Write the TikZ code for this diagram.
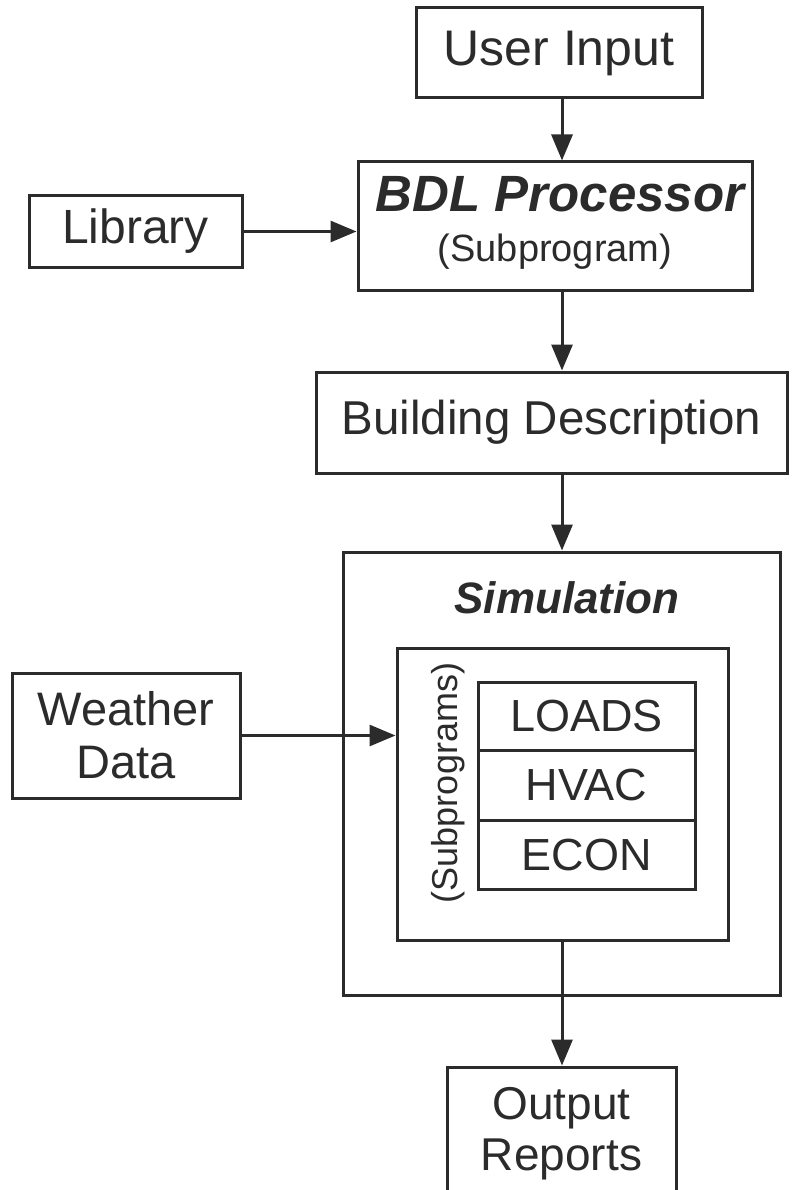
\documentclass[tikz,border=0pt]{standalone}
\usepackage{fontspec}
\setmainfont{Liberation Sans}
\usetikzlibrary{arrows.meta}
\definecolor{ink}{HTML}{2B2B2B}
\begin{document}
\begin{tikzpicture}[x=1pt,y=-1pt,
  box/.style={draw=ink,line width=3pt,text=ink,inner sep=0pt,align=center},
  txt/.style={text=ink,inner sep=0pt,align=center},
  arr/.style={draw=ink,line width=3pt,-{Triangle[length=26pt,width=21pt]}},
  ln/.style={draw=ink,line width=3pt}]
\useasboundingbox (0,0) rectangle (792,1190);
\clip (0,0) rectangle (792,1190);
\fill[white] (0,0) rectangle (792,1190);
\coordinate (ax) at (562,0);
% boxes
\node[box,minimum width=286pt,minimum height=90pt,font=\fontsize{50}{60}\selectfont] (ui) at (559,53) {User Input};
\node[box,minimum width=394pt,minimum height=128pt] (bdl) at (555,226) {};
\node[txt,font=\fontsize{51}{60}\selectfont\bfseries\itshape] (bdlt) at (560,194) {BDL Processor};
\node[txt,font=\fontsize{38}{44}\selectfont] (bdls) at (555,252) {(Subprogram)};
\node[box,minimum width=213pt,minimum height=71pt,font=\fontsize{48}{56}\selectfont] (lib) at (135.5,231.5) {Library};
\node[box,minimum width=471pt,minimum height=101pt,font=\fontsize{47.5}{54}\selectfont] (bd) at (551.5,422.5) {Building Description};
\node[box,minimum width=437pt,minimum height=443pt] (sim) at (561.5,773.5) {};
\node[txt,font=\fontsize{44}{52}\selectfont\bfseries\itshape] (simt) at (567,598) {Simulation};
\node[box,minimum width=331pt,minimum height=292pt] (inner) at (562.5,794) {};
\node[txt,rotate=90,font=\fontsize{36}{42}\selectfont] (subs) at (448,783) {(Subprograms)};
\node[box,minimum width=217pt,minimum height=68pt,font=\fontsize{45}{52}\selectfont] (loads) at (586.5,716) {LOADS};
\node[box,minimum width=217pt,minimum height=70pt,font=\fontsize{45}{52}\selectfont] (hvac) at (586.5,785) {HVAC};
\node[box,minimum width=217pt,minimum height=69pt,font=\fontsize{45}{52}\selectfont] (econ) at (586.5,854.5) {ECON};
\node[box,minimum width=228pt,minimum height=125pt,font=\fontsize{47}{53}\selectfont] (wd) at (126,735.5) {Weather\\Data};
\node[box,minimum width=229pt,minimum height=133pt,font=\fontsize{46}{51}\selectfont] (out) at (561.5,1133.5) {Output\\Reports};
% connectors
\draw[arr] (ui.south -| ax) -- (bdl.north -| ax);
\draw[arr] (lib.east) -- (lib.east -| bdl.west);
\draw[arr] (bdl.south -| ax) -- (bd.north -| ax);
\draw[arr] (bd.south -| ax) -- (sim.north -| ax);
\draw[arr] (wd.east) -- (wd.east -| inner.west);
\draw[arr] (inner.south -| ax) -- (out.north -| ax);
\end{tikzpicture}
\end{document}
